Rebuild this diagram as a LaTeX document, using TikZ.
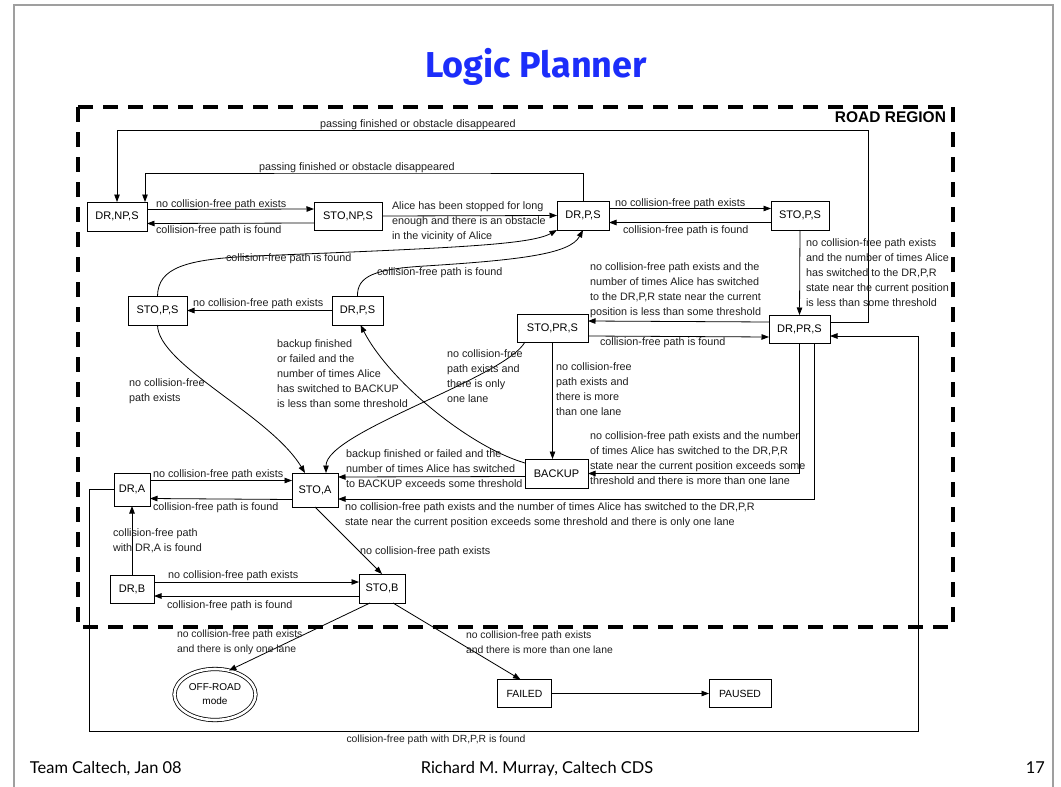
\documentclass[tikz,border=0pt]{standalone}
\usepackage{fontspec}
\setmainfont{Liberation Sans}
\newfontfamily\titlefont{Fira Sans}
\newfontfamily\footfont{Lato}
\usetikzlibrary{arrows.meta,shapes.geometric}
\definecolor{titleblue}{RGB}{28,45,250}

\begin{document}
\begin{tikzpicture}[x=1pt,y=-1pt,
  every node/.style={inner sep=0pt, outer sep=0pt},
  state/.style={draw, line width=0.8pt, font=\fontsize{11}{13}\selectfont},
  lbl/.style={anchor=north west, align=left, yshift=-3pt, font=\fontsize{10.8}{15}\selectfont, text=black!88},
  smalllbl/.style={anchor=north west, align=left, yshift=-3pt, font=\fontsize{10.4}{15}\selectfont, text=black!88},
  arr/.style={line width=0.8pt, -{Triangle[length=7.5pt,width=5.5pt]}}]

\useasboundingbox (0,0) rectangle (1061,787);

% slide frame
\draw[gray!75, line width=1.2pt] (14,800) -- (14,5) -- (1053,5) -- (1053,800);

% title and footer
\node[font=\titlefont\bfseries\fontsize{36}{42}\selectfont, text=titleblue] (title) at (536,67) {Logic Planner};
\node[anchor=base west, font=\footfont\fontsize{16.4}{19}\selectfont] (foot1) at (30,773) {Team Caltech, Jan 08};
\node[anchor=base, font=\footfont\fontsize{16.4}{19}\selectfont] (foot2) at (537,773) {Richard M. Murray, Caltech CDS};
\node[anchor=base east, font=\footfont\fontsize{16.4}{19}\selectfont] (foot3) at (1045,773) {17};

% road region
\draw[line width=3.8pt, dash pattern=on 15pt off 10pt] (78,107) rectangle (953,627);
\node[anchor=east, font=\bfseries\fontsize{15.5}{18}\selectfont] (road) at (946,117) {ROAD REGION};

% states
\node[state, minimum width=60pt, minimum height=29pt] (drnps) at (117,216.5) {DR,NP,S};
\node[state, minimum width=68pt, minimum height=28pt] (stonps) at (348,216) {STO,NP,S};
\node[state, minimum width=52pt, minimum height=29pt] (drps) at (583,215.5) {DR,P,S};
\node[state, minimum width=58pt, minimum height=29pt] (stopsr) at (800,215.5) {STO,P,S};
\node[state, minimum width=59pt, minimum height=29pt] (stopsl) at (157.5,310.5) {STO,P,S};
\node[state, minimum width=51pt, minimum height=29pt] (drpsm) at (357.5,310.5) {DR,P,S};
\node[state, minimum width=71pt, minimum height=28pt] (stoprs) at (552.5,328) {STO,PR,S};
\node[state, minimum width=61pt, minimum height=28pt] (drprs) at (799.5,329) {DR,PR,S};
\node[state, minimum width=63pt, minimum height=29pt] (backup) at (556.5,473.5) {BACKUP};
\node[state, minimum width=46pt, minimum height=34pt] (stoa) at (315,490) {STO,A};
\node[state, minimum width=36pt, minimum height=33pt] (dra) at (132,489.5) {DR,A};
\node[state, minimum width=44pt, minimum height=28pt] (drb) at (132,589) {DR,B};
\node[state, minimum width=46pt, minimum height=29pt] (stob) at (382,588.5) {STO,B};
\node[ellipse, draw, line width=0.8pt, double, double distance=2.6pt, minimum width=81pt, minimum height=51pt,
      align=center, font=\fontsize{10}{14}\selectfont] (offroad) at (215,694.5) {OFF-ROAD\\mode};
\node[state, minimum width=54pt, minimum height=28pt, font=\fontsize{10.4}{13}\selectfont] (failed) at (524.5,693.5) {FAILED};
\node[state, minimum width=62pt, minimum height=28pt, font=\fontsize{10.4}{13}\selectfont] (paused) at (740,693.5) {PAUSED};

% corner points of the long return paths
\coordinate (outerTR) at (868,130);
\coordinate (innerT) at (400,173);
\coordinate (loopBL) at (89,731);
\coordinate (loopBR) at (918,731);

% top row
\draw[arr] ([yshift=7pt]drprs.east) -| (outerTR) -| (drnps.north);
\draw[arr] (drps.north) |- (innerT) -| ([xshift=-2pt]drnps.north east);
\draw[arr] ([yshift=7pt]drnps.east) -- ([yshift=7pt]stonps.west);
\draw[arr] ([yshift=-7pt]stonps.west) -- ([yshift=-7pt]drnps.east);
\draw[arr] (stonps.east) -- (drps.west);
\draw[arr] ([yshift=7pt]drps.east) -- ([yshift=7pt]stopsr.west);
\draw[arr] ([yshift=-7pt]stopsr.west) -- ([yshift=-7pt]drps.east);
\draw[arr] (stopsr.south) -- (drprs.north);

% passing states
\draw[arr] (stopsl.north) .. controls (158,268) and (185,259) .. (255,256)
           .. controls (450,248) and (530,245) .. (drps.south west);
\draw[arr] (drpsm.north) .. controls (357,276) and (375,269) .. (425,266)
           .. controls (520,260) and (570,254) .. (drps.south);
\draw[arr] (drpsm.west) -- (stopsl.east);
\draw[arr] ([yshift=7pt]drprs.west) -- ([yshift=7pt]stoprs.east);
\draw[arr] ([yshift=-8pt]stoprs.east) -- ([yshift=-8pt]drprs.west);
\draw[arr] (stoprs.south) -- (stoprs.south |- backup.north);

% towards the STO,A state
\draw[arr] (stopsl.south) .. controls (158,365) and (270,415) .. ([xshift=-10pt]stoa.north);
\draw[arr] ([xshift=8pt]stoprs.south west) .. controls (505,378) and (326,432) .. ([xshift=11pt]stoa.north);
\draw[arr] ([yshift=-4pt]backup.north west) .. controls (470,447) and (390,382) .. ([xshift=3pt]drpsm.south);
\draw[arr] ([yshift=-3pt]backup.west) -- ([yshift=13pt]stoa.east);
\draw[arr] (drprs.south) |- (backup.east);
\draw[arr] ([xshift=15pt]drprs.south) |- ([yshift=-9pt]stoa.east);

% lower states
\draw[arr] ([yshift=9pt]dra.east) -- ([yshift=9.5pt]stoa.west);
\draw[arr] ([yshift=-9.5pt]stoa.west) -- ([yshift=-9pt]dra.east);
\draw[arr] (drb.north) -- (dra.south);
\draw[arr] ([yshift=7pt]drb.east) -- ([yshift=6.5pt]stob.west);
\draw[arr] ([yshift=-7.5pt]stob.west) -- ([yshift=-7pt]drb.east);
\draw[arr] (stoa.south) -- (stob.north);
\draw[arr] ([xshift=-12pt]stob.south) -- (offroad.60);
\draw[arr] ([xshift=11pt]stob.south) -- ([xshift=-4pt]failed.north);
\draw[arr] (failed.east) -- (paused.west);
\draw[arr] (dra.west) -| (loopBL) -- (loopBR) |- ([yshift=-7pt]drprs.east);

% transition labels
\node[lbl] (l1) at (320,117) {passing finished or obstacle disappeared};
\node[lbl] (l2) at (259,160) {passing finished or obstacle disappeared};
\node[lbl] (l3) at (156,197) {no collision-free path exists};
\node[lbl] (l4) at (156,223) {collision-free path is found};
\node[lbl] (l5) at (392,199) {Alice has been stopped for long\\enough and there is an obstacle\\in the vicinity of Alice};
\node[lbl] (l6) at (615,196) {no collision-free path exists};
\node[lbl] (l7) at (623,223) {collision-free path is found};
\node[lbl] (l8) at (806,236) {no collision-free path exists\\and the number of times Alice\\has switched to the DR,P,R\\state near the current position\\is less than some threshold};
\node[lbl] (l9) at (226,251) {collision-free path is found};
\node[lbl] (l10) at (377,265) {collision-free path is found};
\node[lbl] (l11) at (590,260) {no collision-free path exists and the\\number of times Alice has switched\\to the DR,P,R state near the current\\position is less than some threshold};
\node[lbl] (l12) at (193,296) {no collision-free path exists};
\node[lbl] (l13) at (600,335) {collision-free path is found};
\node[lbl] (l14) at (277,337) {backup finished\\or failed and the\\number of times Alice\\has switched to BACKUP\\is less than some threshold};
\node[lbl] (l15) at (447,347) {no collision-free\\path exists and\\there is only\\one lane};
\node[lbl] (l16) at (556,360) {no collision-free\\path exists and\\there is more\\than one lane};
\node[lbl] (l17) at (129,376) {no collision-free\\path exists};
\node[lbl] (l18) at (590,429) {no collision-free path exists and the number\\of times Alice has switched to the DR,P,R\\state near the current position exceeds some\\threshold and there is more than one lane};
\node[lbl] (l19) at (346,447) {backup finished or failed and the\\number of times Alice has switched\\to BACKUP exceeds some threshold};
\node[lbl] (l20) at (153,467) {no collision-free path exists};
\node[lbl] (l21) at (153,500) {collision-free path is found};
\node[lbl] (l22) at (345,500) {no collision-free path exists and the number of times Alice has switched to the DR,P,R\\state near the current position exceeds some threshold and there is only one lane};
\node[lbl] (l23) at (113,526) {collision-free path\\with DR,A is found};
\node[lbl] (l24) at (360,544) {no collision-free path exists};
\node[lbl] (l25) at (168,568) {no collision-free path exists};
\node[lbl] (l26) at (167,598) {collision-free path is found};
\node[smalllbl] (l27) at (177,627) {no collision-free path exists\\and there is only one lane};
\node[smalllbl] (l28) at (466,628) {no collision-free path exists\\and there is more than one lane};
\node[smalllbl, anchor=center, yshift=3pt] (l29) at (436,740) {collision-free path with DR,P,R is found};

\end{tikzpicture}
\end{document}
